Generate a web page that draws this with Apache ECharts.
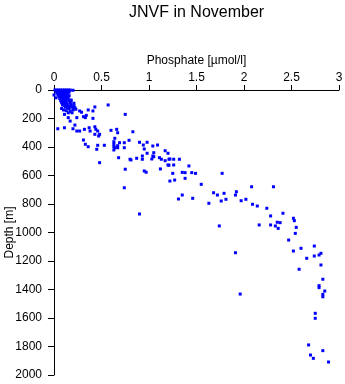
<!DOCTYPE html>
<html>
<head>
<meta charset="utf-8">
<script src="https://cdn.jsdelivr.net/npm/echarts@6/dist/echarts.min.js"></script>
<style>
html,body{margin:0;padding:0;background:#fff;}
#chart{width:345px;height:384px;}
</style>
</head>
<body>
<div id="chart"></div>
<script>
var titleText = 'JNVF in November';
var xName = 'Phosphate [\u00b5mol/l]';
var yName = 'Depth [m]';
var xTicks = [0, 0.5, 1, 1.5, 2, 2.5, 3];
var yTicks = [0, 200, 400, 600, 800, 1000, 1200, 1400, 1600, 1800, 2000];

// [phosphate, depth] - surface cluster
var surfacePoints = [
  [0.01,0],[0.03,0],[0.05,0],[0.07,0],[0.09,0],[0.11,0],[0.13,0],[0.15,0],[0.17,0],[0.2,2],
  [0.02,8],[0.04,6],[0.06,10],[0.08,5],[0.1,8],[0.12,10],[0.14,6],[0.16,12],
  [0.03,20],[0.05,18],[0.07,22],[0.09,15],[0.11,20],[0.13,25],[0.15,18],
  [0.0,35],[0.04,30],[0.06,35],[0.08,30],[0.1,32],[0.12,38],[0.14,35],[0.16,40],
  [0.05,45],[0.07,50],[0.09,45],[0.11,50],[0.13,48],[0.15,55],
  [0.02,55],[0.06,60],[0.08,65],[0.1,62],[0.12,68],[0.14,65],
  [0.07,75],[0.09,80],[0.11,78],[0.13,82],[0.16,75],[0.18,70],
  [0.08,90],[0.1,95],[0.12,92],[0.14,98],[0.17,88],
  [0.09,105],[0.11,110],[0.13,108],[0.15,112],[0.18,100],
  [0.12,120],[0.14,125],[0.16,130],[0.19,118],
  [0.1,140],[0.13,145],[0.17,150],[0.2,140],[0.23,135],[0.15,160],[0.19,160],
  [0.08,130],[0.21,110],[0.2,125]
];
// [phosphate, depth] - upper layer
var upperPoints = [
  [0.18,77],[0.21,93],[0.17,112],[0.22,124],[0.27,147],[0.36,140],[0.41,147],[0.43,119],
  [0.57,105],[0.75,171],[0.11,171],[0.15,194],[0.17,218],[0.24,194],[0.31,187],[0.33,194],
  [0.41,199],[0.34,178],[0.29,156],[0.04,272],[0.11,265],[0.20,272],[0.22,246],[0.24,288],
  [0.27,288],[0.32,276],[0.37,265],[0.38,288],[0.44,276],[0.46,288],[0.48,311],[0.43,311],
  [0.43,258],[0.47,323],[0.60,283],[0.66,276],[0.67,300],[0.83,293],[0.64,339],[0.69,370],
  [0.74,370],[0.79,353],[0.31,351],[0.33,381],[0.36,398],[0.46,388],[0.53,388],[0.45,416],
  [0.64,405],[0.67,405],[0.74,405],[0.63,363],[0.63,381],[0.67,391],[0.63,398],[0.63,421],
  [0.90,367],[0.94,386],[0.98,367],[0.95,414],[1.04,393],[1.09,386]
];
// [phosphate, depth] - intermediate layer
var middlePoints = [
  [0.68,475],[0.80,486],[0.81,491],[0.87,479],[0.93,463],[0.93,486],[0.98,444],[1.05,468],
  [1.05,440],[1.04,463],[1.03,484],[1.11,475],[1.17,426],[1.20,444],[1.13,486],[1.21,486],
  [1.26,486],[1.32,486],[1.17,496],[1.22,484],[0.48,510],[1.42,533],[0.75,556],[0.95,568],
  [0.97,577],[1.12,554],[1.21,528],[1.20,526],[1.26,526],[1.25,585],[1.35,578],[1.38,580],
  [1.45,580],[1.49,585],[1.77,585],[1.38,620],[1.22,639],[1.27,632],[1.55,662],[0.74,686],
  [1.35,737],[1.31,765],[1.46,760],[1.63,795],[1.68,721],[1.72,737],[1.79,725],[1.76,779],
  [1.81,767],[1.92,714],[1.91,737],[1.97,777],[2.02,767],[2.09,802],[2.14,814],[2.08,679],
  [2.31,679],[0.90,870]
];
// [phosphate, depth] - deep layer
var deepPoints = [
  [2.24,830],[2.41,865],[2.28,884],[2.52,900],[2.53,917],[2.35,928],[2.38,931],[2.28,947],
  [2.33,954],[2.36,971],[2.55,964],[1.74,954],[2.16,947],[2.54,1006],[2.47,1053],[1.91,1142],
  [2.52,1130],[2.60,1111],[2.74,1095],[2.66,1181],[2.74,1165],[2.79,1158],[2.81,1146],
  [2.81,1228],[2.58,1258],[2.83,1328],[2.79,1373],[2.79,1387],[2.85,1411],[2.83,1434],
  [2.83,1451],[1.96,1432],[2.75,1567],[2.75,1602],[2.68,1789],[2.83,1829],[2.70,1860],
  [2.73,1883],[2.89,1909]
];

var allPoints = surfacePoints.concat(upperPoints, middlePoints, deepPoints);

var chart = echarts.init(document.getElementById('chart'), null, {renderer: 'canvas'});
var font = 'Liberation Sans, Arial, sans-serif';
chart.setOption({
  backgroundColor: '#fff',
  animation: false,
  title: {
    text: titleText,
    left: 124,
    top: 0,
    textStyle: {fontFamily: font, fontSize: 16, fontWeight: 'normal', color: '#000'}
  },
  grid: {left: 54, right: 6, top: 90, bottom: 9, containLabel: false, outerBoundsMode: 'none'},
  xAxis: {
    type: 'value',
    position: 'top',
    min: xTicks[0],
    max: xTicks[xTicks.length - 1],
    interval: xTicks[1] - xTicks[0],
    name: xName,
    nameLocation: 'middle',
    nameGap: 23,
    nameMoveOverlap: false,
    nameTextStyle: {fontFamily: font, fontSize: 12, color: '#000'},
    axisLine: {show: true, lineStyle: {color: '#000', width: 1}},
    axisTick: {show: true, length: 5, lineStyle: {color: '#000'}},
    axisLabel: {fontFamily: font, fontSize: 12, color: '#000', margin: 6,
      formatter: function (v) { return String(v); }},
    splitLine: {show: false}
  },
  yAxis: {
    type: 'value',
    inverse: true,
    min: yTicks[0],
    max: yTicks[yTicks.length - 1],
    interval: yTicks[1] - yTicks[0],
    name: yName,
    nameLocation: 'middle',
    nameGap: 38,
    nameMoveOverlap: false,
    nameTextStyle: {fontFamily: font, fontSize: 12, color: '#000'},
    axisLine: {show: true, lineStyle: {color: '#000', width: 1}},
    axisTick: {show: true, length: 6, lineStyle: {color: '#000'}},
    axisLabel: {fontFamily: font, fontSize: 12, color: '#000', margin: 12,
      formatter: function (v) { return String(v); }},
    splitLine: {show: false}
  },
  series: [{
    type: 'scatter',
    data: allPoints,
    symbol: 'rect',
    symbolSize: 3,
    itemStyle: {color: '#0000ff', opacity: 1},
    clip: false
  }]
});
</script>
</body>
</html>
